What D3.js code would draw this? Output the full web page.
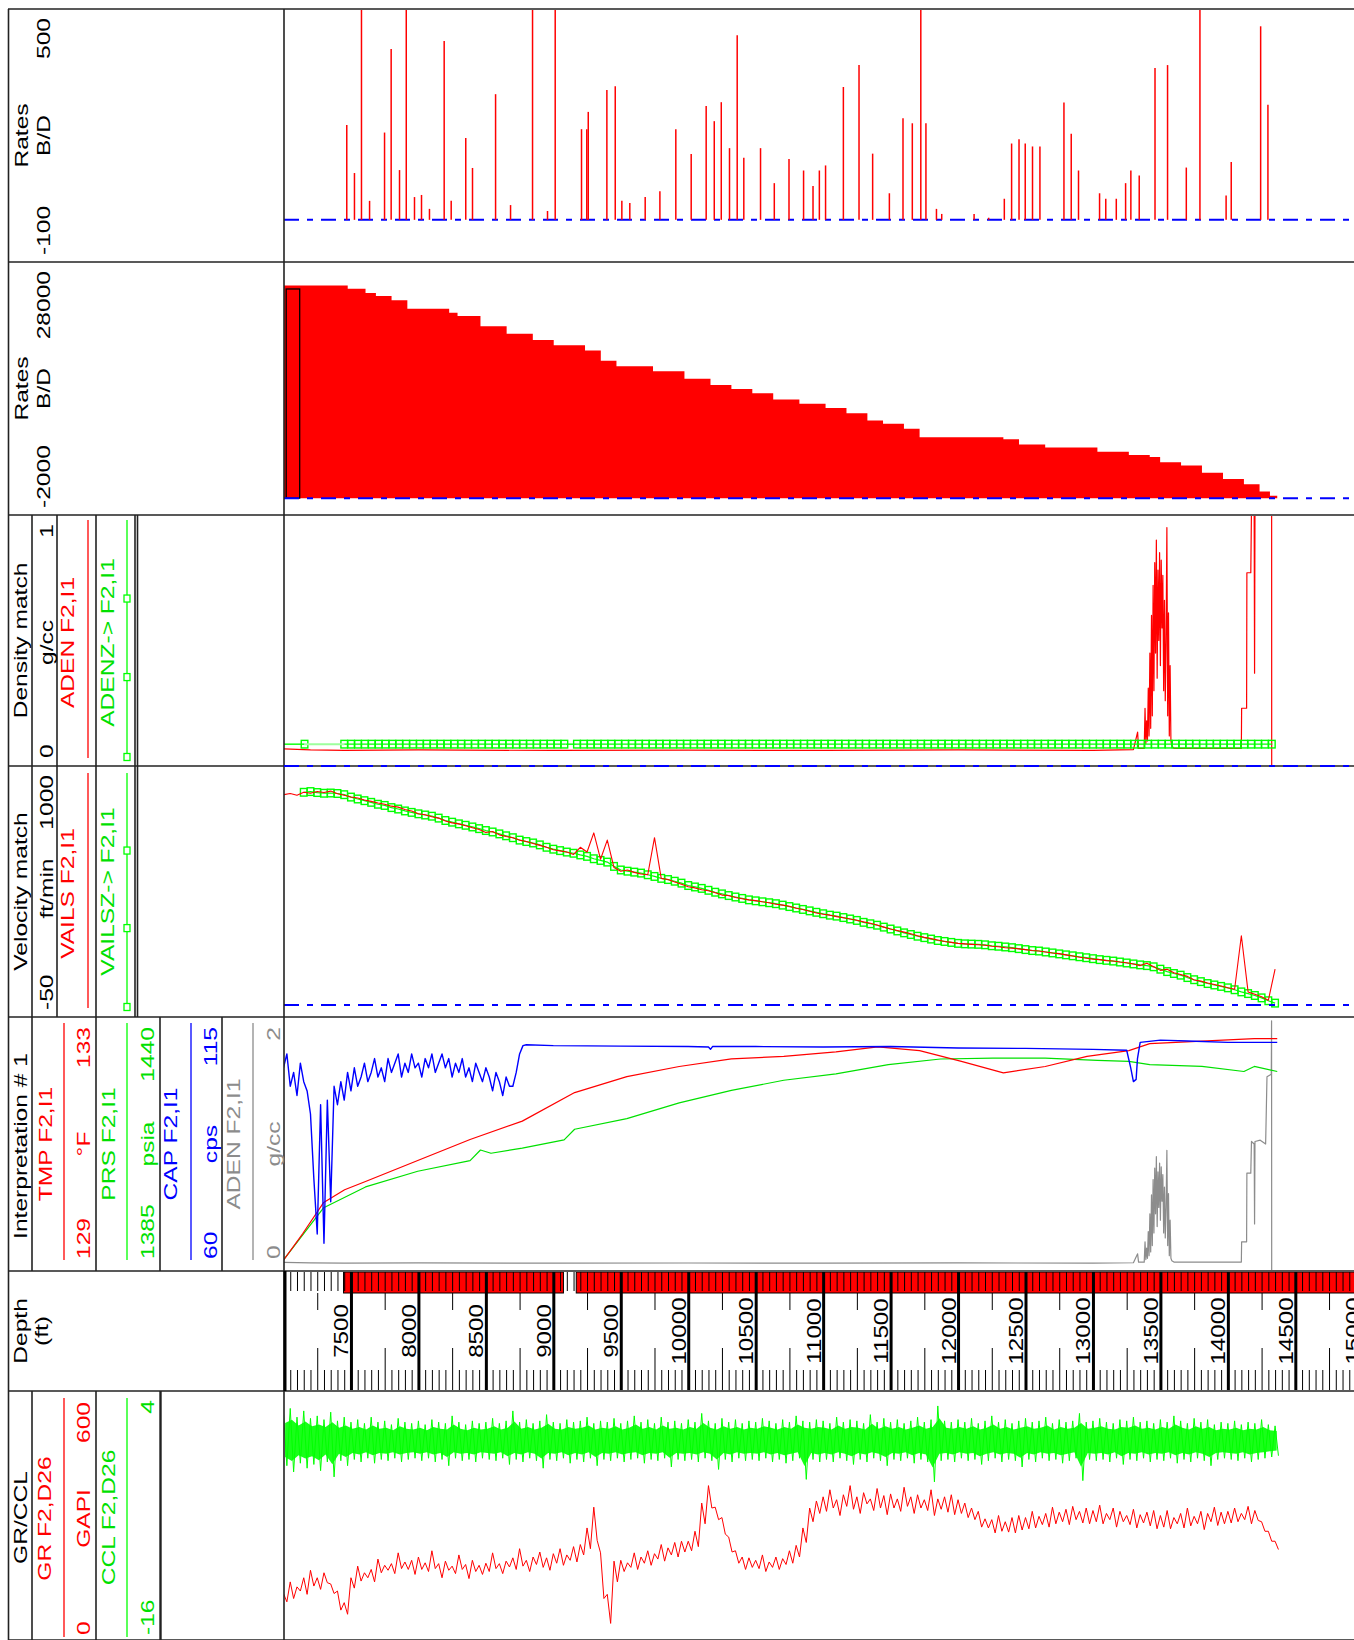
<!DOCTYPE html>
<html>
<head>
<meta charset="utf-8">
<script src="https://cdn.jsdelivr.net/npm/d3@7"></script>
<style>
  body { margin: 0; background: #fff; }
  svg { display: block; }
  text { font-family: "Liberation Sans", Arial, sans-serif; }
</style>
</head>
<body>
<div id="chart"></div>
<script>
// ---------------- data (depth in ft) ----------------

// track 1: injection rate spikes, B/D
const spikeDepth = [7469, 7526, 7578, 7638, 7749, 7798, 7860, 7910, 7971, 8023, 8082, 8191, 8243, 8351, 8401, 8572, 8683, 8846, 8957, 9014,
  9209, 9248, 9259, 9397, 9459, 9508, 9567, 9681, 9790, 9908, 10022, 10133, 10193, 10245, 10306, 10363, 10412, 10536, 10638, 10747,
  10855, 10925, 10972, 11018, 11150, 11266, 11367, 11491, 11592, 11661, 11724, 11762, 11840, 11879, 12119, 12227, 12343, 12397, 12452, 12498,
  12552, 12607, 12785, 12839, 12893, 13049, 13095, 13173, 13242, 13281, 13343, 13460, 13553, 13692, 13793, 13987, 14025, 14243, 14297];
const spikeRate = [225, 111, 600, 45, 207, 405, 118, 600, 54, 59, 26, 424, 45, 194, 123, 298, 35, 600, 21, 600,
  215, 215, 256, 308, 317, 45, 40, 54, 68, 215, 156, 270, 234, 279, 170, 438, 147, 170, 87, 144,
  117, 80, 117, 129, 315, 367, 157, 63, 241, 229, 600, 229, 26, 14, 14, 5, 50, 181, 191, 181,
  174, 174, 278, 204, 117, 63, 50, 50, 87, 117, 105, 360, 367, 124, 600, 58, 137, 459, 273];

// track 2: cumulative flow profile, B/D
const flowDepth = [7000, 7476, 7608, 7685, 7801, 7918, 8228, 8290, 8460, 8654, 8848, 9003, 9235, 9352, 9468, 9739, 9972, 10165, 10320, 10475,
  10630, 10824, 11018, 11173, 11328, 11444, 11599, 11715, 11793, 12336, 12452, 12646, 13033, 13266, 13421, 13498, 13653, 13808, 13964, 14119,
  14235, 14312, 14366];
const flowRate = [25210, 24830, 24330, 23960, 23470, 22470, 21980, 21610, 20370, 19500, 18760, 18140, 17510, 16280, 15650, 15040, 14170, 13420, 12930, 12430,
  11690, 11190, 10700, 10080, 9210, 8830, 8220, 7220, 7220, 6970, 6360, 5990, 5490, 5120, 4870, 4250, 3880, 3010, 2260, 1650,
  780, 280, 0];
const boxDepth = [7020, 7120];
const boxRate = [0, 24800];

// ADEN, g/cc (tracks 3 and 5)
const adenDepth = [7000, 7200, 7450, 8000, 9000, 10000, 11000, 12000, 13000, 13300, 13331, 13338,
  13380, 13386, 13392, 13398, 13404, 13410, 13416, 13422, 13428, 13434, 13440, 13446, 13452, 13458, 13464, 13470, 13476, 13482,
  13488, 13494, 13500, 13506, 13512, 13518, 13524, 13530, 13536, 13542, 13548, 13554, 13560, 13566, 13572, 13578, 13585, 13600,
  14100, 14102, 14139, 14141, 14170, 14175, 14195, 14198, 14201, 14240, 14280, 14290, 14322, 14324, 14325];
const adenVal = [0.068, 0.064, 0.062, 0.064, 0.062, 0.063, 0.062, 0.064, 0.062, 0.065, 0.135, 0.07,
  0.07, 0.23, 0.09, 0.18, 0.1, 0.31, 0.12, 0.45, 0.15, 0.6, 0.2, 0.72, 0.3, 0.81, 0.45, 0.9, 0.35, 0.78,
  0.5, 0.85, 0.4, 0.82, 0.55, 0.76, 0.3, 0.66, 0.26, 0.5, 0.95, 0.2, 0.61, 0.12, 0.4, 0.1, 0.08, 0.07,
  0.07, 0.23, 0.23, 0.77, 0.77, 1.02, 1.0, 0.37, 1.02, 1.03, 1.0, 1.53, 1.55, 1.97, 0.0];

// ADENZ (zoned density), constant runs with markers
const adenzRuns = [[7000, 7156, 0.087], [7450, 9090, 0.087], [9175, 14330, 0.087]];

// VAILS, ft/min, every 50 ft from 7000
const vailsStart = 7000;
const vailsVal = [880, 885, 878, 890, 886, 893, 889, 895, 884, 878,
  870, 866, 858, 852, 845, 840, 832, 828, 818, 812,
  800, 796, 788, 782, 770, 762, 758, 750, 742, 734,
  722, 726, 712, 705, 700, 690, 684, 676, 668, 660,
  650, 645, 640, 630, 660, 640, 720, 610, 690, 575,
  560, 565, 555, 548, 545, 700, 530, 525, 515, 505,
  495, 490, 482, 478, 470, 460, 458, 450, 445, 440,
  437, 432, 428, 422, 418, 413, 405, 400, 392, 385,
  380, 376, 370, 365, 360, 355, 348, 342, 335, 326,
  318, 312, 305, 298, 290, 283, 278, 272, 266, 262,
  258, 256, 254, 252, 250, 246, 244, 240, 238, 235,
  232, 228, 226, 222, 218, 215, 210, 205, 200, 196,
  192, 190, 186, 184, 180, 177, 172, 165, 175, 160,
  145, 150, 135, 128, 120, 105, 100, 92, 86, 80,
  72, 66, 290, 55, 45, 35, 20, 150];

// VAILSZ, ft/min, every 50 ft from 7150
const vailszStart = 7150;
const vailszVal = [890, 893, 889, 886, 887,
  885, 880, 870, 862, 855, 848, 840, 835, 826, 820, 812, 806,
  800, 795, 790, 782, 772, 765, 758, 752, 745, 738,
  730, 724, 716, 708, 700, 690, 684, 678, 670, 660,
  652, 646, 640, 635, 628, 622, 612, 605, 598, 580,
  565, 560, 556, 552, 545, 538, 530, 525, 518, 510,
  500, 494, 488, 480, 472, 465, 458, 452, 446, 440,
  436, 432, 428, 424, 418, 412, 406, 400, 394, 388,
  382, 376, 372, 366, 360, 354, 346, 340, 334, 326,
  318, 310, 302, 295, 288, 282, 276, 270, 266, 262,
  258, 256, 255, 254, 252, 248, 246, 243, 240, 236,
  232, 228, 226, 222, 218, 214, 210, 206, 202, 198,
  194, 190, 187, 184, 180, 176, 172, 168, 165, 160,
  150, 140, 132, 125, 115, 106, 98, 90, 84, 78,
  72, 64, 55, 48, 40, 30, 18, 8];

// TMP, degF
const tmpDepth = [7000, 7143, 7298, 7453, 7608, 7995, 8383, 8770, 9158, 9545, 9933, 10320, 10708, 11095, 11405, 11715, 12025, 12336, 12646, 12956,
  13266, 13421, 13808, 14196, 14366];
const tmpVal = [129.17, 129.59, 130.08, 130.28, 130.41, 130.74, 131.07, 131.36, 131.81, 132.06, 132.22, 132.34, 132.38, 132.45, 132.53, 132.47, 132.30, 132.12, 132.22, 132.38,
  132.47, 132.58, 132.62, 132.66, 132.66];

// PRS, psia
const prsDepth = [7000, 7298, 7608, 7995, 8383, 8460, 8538, 8770, 9080, 9158, 9545, 9933, 10320, 10708, 11095, 11483, 11870, 12258, 12646, 13033,
  13266, 13421, 13808, 14119, 14196, 14366];
const prsVal = [1387.4, 1398.7, 1403.2, 1406.6, 1408.9, 1411.2, 1410.5, 1411.6, 1413.4, 1415.7, 1418.0, 1421.4, 1424.1, 1426.3, 1427.7, 1429.7, 1430.9, 1431.1, 1431.1, 1430.6,
  1430.4, 1429.7, 1429.3, 1428.2, 1429.3, 1428.2];

// CAP, cps: noisy upper section every 25 ft from 7000, then sparse tail
const capStart = 7000;
const capNoisy = [104, 107, 100, 103, 98, 105, 101, 99, 94, 80,
  68, 96, 66, 97, 75, 100, 96, 101, 97, 103,
  99, 104, 100, 102, 105, 101, 103, 106, 102, 104,
  101, 106, 103, 105, 107, 102, 105, 103, 107, 104,
  105, 102, 106, 104, 107, 103, 105, 107, 104, 106,
  102, 105, 103, 106, 102, 104, 101, 105, 103, 101,
  104, 102, 99, 103, 101, 98, 102, 100, 100, 103,
  107, 108.8];
const capTailDepth = [8800, 9000, 9500, 10000, 10150, 10165, 10180, 10500, 11000, 11500, 12000, 12500, 13000, 13250, 13280, 13300, 13320, 13330, 13350, 13500,
  13700, 14000, 14366];
const capTailVal = [109, 108.8, 108.7, 108.6, 108.5, 108.0, 108.6, 108.6, 108.5, 108.6, 108.3, 108.2, 108.0, 107.8, 104, 101, 101.5, 106, 109.5, 110,
  109.8, 109.5, 109.5];

// GR, GAPI: high / low excursion per 50 ft bin from 7000
const grStart = 7000;
const grHi = [112, 140, 128, 150, 168, 150, 162, 135, 118, 90,
  150, 178, 162, 170, 195, 180, 184, 210, 188, 192,
  200, 186, 215, 184, 190, 178, 205, 182, 192, 180,
  185, 210, 184, 190, 198, 220, 192, 200, 212, 198,
  208, 220, 205, 225, 230, 270, 320, 210, 110, 190,
  192, 186, 210, 200, 215, 208, 230, 222, 235, 238,
  238, 262, 330, 372, 320, 295, 248, 215, 200, 198,
  192, 205, 188, 200, 196, 215, 228, 270, 318, 335,
  345, 362, 338, 350, 372, 345, 355, 340, 365, 348,
  352, 340, 368, 345, 350, 338, 362, 340, 345, 350,
  338, 330, 318, 310, 292, 290, 300, 285, 295, 300,
  295, 310, 298, 305, 320, 308, 315, 322, 310, 318,
  312, 325, 305, 318, 310, 300, 315, 302, 308, 312,
  300, 312, 295, 305, 318, 298, 310, 305, 320, 308,
  310, 318, 305, 322, 312, 285, 262, 238];
const grLo = [92, 100, 118, 110, 130, 122, 138, 112, 72, 62,
  125, 142, 150, 140, 162, 168, 160, 172, 170, 158,
  170, 165, 172, 150, 168, 160, 170, 148, 165, 158,
  165, 172, 160, 176, 170, 178, 165, 182, 175, 168,
  185, 180, 192, 188, 205, 220, 240, 100, 40, 140,
  165, 175, 170, 185, 180, 195, 190, 205, 200, 212,
  215, 225, 280, 318, 290, 255, 212, 185, 170, 175,
  172, 165, 175, 170, 182, 185, 200, 235, 285, 305,
  310, 318, 300, 322, 315, 305, 328, 312, 318, 302,
  318, 310, 322, 305, 318, 312, 300, 315, 308, 302,
  305, 295, 290, 272, 270, 258, 262, 260, 258, 265,
  268, 270, 278, 272, 280, 285, 278, 290, 282, 280,
  285, 280, 290, 272, 285, 278, 270, 282, 275, 268,
  272, 268, 280, 270, 275, 280, 266, 285, 276, 280,
  282, 285, 290, 280, 288, 262, 238, 218];

// CCL: high / low excursion per 50 ft bin from 7000
const cclStart = 7000;
const cclHi = [2.2, 2.6, 1.9, 2.4, 1.8, 2.0, 1.7, 2.3, 1.6, 1.9,
  1.5, 1.7, 1.4, 1.9, 1.5, 1.6, 1.3, 1.8, 1.5, 1.4,
  1.6, 1.3, 1.7, 1.5, 1.4, 2.0, 1.5, 1.3, 1.6, 1.4,
  1.5, 1.8, 1.4, 1.6, 2.4, 1.5, 1.7, 1.4, 1.6, 2.1,
  1.5, 1.4, 1.7, 1.5, 1.6, 1.9, 1.4, 1.6, 1.5, 1.8,
  1.4, 1.6, 2.0, 1.5, 1.7, 1.4, 1.9, 1.5, 1.6, 1.4,
  1.7, 1.5, 2.2, 1.6, 1.4, 1.8, 1.5, 1.7, 1.4, 1.6,
  1.5, 1.8, 1.6, 1.4, 1.7, 1.5, 2.0, 1.6, 1.5, 1.7,
  1.6, 1.4, 1.9, 1.5, 1.7, 1.6, 1.4, 2.1, 1.5, 1.8,
  1.5, 1.7, 1.4, 1.6, 1.9, 1.5, 1.7, 2.8, 1.6, 1.5,
  1.7, 1.5, 1.8, 1.4, 1.6, 2.0, 1.5, 1.7, 1.4, 1.6,
  1.8, 1.5, 1.6, 1.9, 1.4, 1.7, 1.5, 1.6, 2.2, 1.5,
  1.6, 1.8, 1.5, 1.4, 1.7, 1.6, 1.9, 1.5, 1.6, 1.4,
  1.7, 1.5, 2.0, 1.6, 1.4, 1.8, 1.5, 1.7, 1.3, 1.5,
  1.4, 1.6, 1.3, 1.5, 1.4, 1.7, 1.3, 1.2];
const cclLo = [-2.0, -2.5, -1.8, -2.2, -1.9, -2.4, -1.7, -2.9, -1.6, -2.0,
  -1.5, -1.7, -1.4, -1.8, -1.5, -1.6, -1.4, -1.7, -1.5, -1.4,
  -1.6, -1.4, -1.7, -1.5, -2.0, -1.4, -1.6, -1.5, -1.7, -1.4,
  -1.5, -1.6, -1.4, -1.9, -1.5, -1.7, -1.4, -1.6, -2.2, -1.5,
  -1.6, -1.4, -1.8, -1.5, -1.7, -1.4, -2.0, -1.5, -1.6, -1.4,
  -1.7, -1.5, -1.4, -1.8, -1.5, -1.6, -1.4, -2.1, -1.5, -1.6,
  -1.5, -1.7, -1.4, -1.6, -2.3, -1.5, -1.7, -1.4, -1.6, -1.5,
  -1.6, -1.4, -1.7, -1.5, -1.8, -1.6, -1.4, -3.1, -1.5, -1.7,
  -1.5, -1.7, -1.4, -1.6, -1.9, -1.5, -1.7, -1.4, -1.6, -2.0,
  -1.5, -1.6, -1.4, -1.8, -1.5, -1.7, -3.3, -1.6, -1.5, -1.7,
  -1.4, -1.6, -1.5, -1.9, -1.6, -1.4, -1.7, -1.5, -1.6, -2.1,
  -1.5, -1.7, -1.4, -1.6, -1.5, -1.8, -1.6, -1.4, -3.2, -1.5,
  -1.6, -1.5, -1.7, -1.4, -1.9, -1.5, -1.6, -1.4, -1.7, -1.5,
  -1.6, -1.4, -1.8, -1.5, -1.7, -1.4, -1.6, -2.0, -1.5, -1.4,
  -1.5, -1.6, -1.4, -1.7, -1.5, -1.4, -1.3, -1.2];

// depth track: station intervals
const stationRuns = [[7445, 9075], [9170, 15000]];
const depthLabels = [7500, 8000, 8500, 9000, 9500, 10000, 10500, 11000, 11500, 12000, 12500, 13000, 13500, 14000, 14500, 15000];

// ---------------- layout ----------------
const W = 1354, H = 1640;
const headL = 8, plotL = 284;
const trackY = [9, 262, 515, 766, 1017, 1271, 1391, 1640];

const red = "#ff0000", green = "#00ff00", greenText = "#00e000", blue = "#0000ff", gray = "#8c8c8c";

const svg = d3.select("#chart").append("svg")
  .attr("width", W).attr("height", H);

const x = d3.scaleLinear().domain([7000, 14935]).range([283.5, W]);

const defs = svg.append("defs");
trackY.slice(0, -1).forEach((t, i) => {
  defs.append("clipPath").attr("id", "clip" + i).append("rect")
    .attr("x", plotL).attr("y", t + 1)
    .attr("width", W - plotL).attr("height", trackY[i + 1] - t - 2);
});
const track = i => svg.append("g").attr("clip-path", `url(#clip${i})`);

const byIndex = (start, step) => (v, i) => [start + i * step, v];

// min/max bins drawn as a dense zig-zag, the way a decimated log trace looks
function zigzag(start, step, hi, lo) {
  const pts = [];
  hi.forEach((h, i) => {
    const d = start + i * step;
    pts.push([d, h], [d + step / 2, lo[i]]);
  });
  return pts;
}

function curve(g, pts, y, color, width, crv) {
  g.append("path").datum(pts)
    .attr("fill", "none").attr("stroke", color).attr("stroke-width", width)
    .attr("stroke-linejoin", "round")
    .attr("d", d3.line().x(d => x(d[0])).y(d => y(d[1])).curve(crv || d3.curveLinear));
}

function markers(g, pts, y) {
  g.selectAll(null).data(pts).join("rect")
    .attr("x", d => x(d[0]) - 3.3).attr("y", d => y(d[1]) - 3.8)
    .attr("width", 6.6).attr("height", 7.6)
    .attr("fill", "none").attr("stroke", green).attr("stroke-width", 1.4);
}

function dashDot(g, yPos) {
  g.append("line")
    .attr("x1", plotL).attr("x2", W).attr("y1", yPos).attr("y2", yPos)
    .attr("stroke", blue).attr("stroke-width", 2)
    .attr("stroke-dasharray", "15 8 6 8");
}

// ---- track 1: rates ----
const y1 = d3.scaleLinear().domain([-100, 500]).range([trackY[1], trackY[0]]);
const t1 = track(0);
dashDot(t1, y1(0));
t1.selectAll(null).data(d3.zip(spikeDepth, spikeRate)).join("line")
  .attr("x1", d => x(d[0])).attr("x2", d => x(d[0]))
  .attr("y1", y1(0)).attr("y2", d => y1(d[1]))
  .attr("stroke", red).attr("stroke-width", 1.5);

// ---- track 2: flow profile ----
const y2 = d3.scaleLinear().domain([-2000, 28000]).range([trackY[2], trackY[1]]);
const t2 = track(1);
t2.append("path").datum(d3.zip(flowDepth, flowRate))
  .attr("fill", red)
  .attr("d", d3.area().x(d => x(d[0])).y0(y2(0)).y1(d => y2(d[1])).curve(d3.curveStepAfter));
t2.append("rect")
  .attr("x", x(boxDepth[0])).attr("width", x(boxDepth[1]) - x(boxDepth[0]))
  .attr("y", y2(boxRate[1])).attr("height", y2(boxRate[0]) - y2(boxRate[1]))
  .attr("fill", "none").attr("stroke", "#000").attr("stroke-width", 1.3);
dashDot(t2, y2(0));

// ---- track 3: density match ----
const y3 = d3.scaleLinear().domain([0, 1]).range([trackY[3], trackY[2]]);
const t3 = track(2);
const adenPts = d3.zip(adenDepth, adenVal);
curve(t3, adenPts, y3, red, 1.2);
adenzRuns.forEach(r => {
  curve(t3, [[r[0], r[2]], [r[1], r[2]]], y3, green, 1.4);
  markers(t3, d3.range(r[0] === 7000 ? 7156 : r[0], r[1] + 1, 51).map(d => [d, r[2]]), y3);
});
curve(t3, [[7156, 0.087], [7450, 0.087]], y3, "#9dff9d", 2);
curve(t3, [[9090, 0.087], [9175, 0.087]], y3, green, 1.4);

// ---- track 4: velocity match ----
const y4 = d3.scaleLinear().domain([-50, 1000]).range([trackY[4], trackY[3]]);
const t4 = track(3);
const vzPts = vailszVal.map(byIndex(vailszStart, 50));
curve(t4, vzPts, y4, green, 1.2);
markers(t4, vzPts, y4);
curve(t4, vailsVal.map(byIndex(vailsStart, 50)), y4, red, 1.1);
dashDot(t4, y4(0));

// ---- track 5: interpretation ----
const yTmp = d3.scaleLinear().domain([129, 133]).range([trackY[5], trackY[4]]);
const yPrs = d3.scaleLinear().domain([1385, 1440]).range([trackY[5], trackY[4]]);
const yCap = d3.scaleLinear().domain([60, 115]).range([trackY[5], trackY[4]]);
const yAd2 = d3.scaleLinear().domain([0, 2]).range([trackY[5], trackY[4]]);
const t5 = track(4);
curve(t5, adenPts, yAd2, gray, 1.2);
curve(t5, d3.zip(prsDepth, prsVal), yPrs, "#00e000", 1.2);
curve(t5, d3.zip(tmpDepth, tmpVal), yTmp, red, 1.2);
curve(t5, capNoisy.map(byIndex(capStart, 25)).concat(d3.zip(capTailDepth, capTailVal)), yCap, blue, 1.4);

// ---- depth track ----
const dTop = trackY[5], dBot = trackY[6];
const gD = svg.append("g").attr("clip-path", "url(#clip5)");
gD.selectAll(null).data(stationRuns).join("rect")
  .attr("x", d => x(d[0])).attr("width", d => x(d[1]) - x(d[0]))
  .attr("y", dTop + 1).attr("height", 21)
  .attr("fill", red).attr("stroke", "#000").attr("stroke-width", 1);
const all50 = d3.range(7000, 15001, 50);
const minor = all50.filter(d => d % 250 !== 0);
const mids = all50.filter(d => d % 500 === 250);
const majors = all50.filter(d => d % 500 === 0);
const clean = g => { g.select(".domain").remove(); g.selectAll("text").remove(); };
gD.append("g").attr("transform", `translate(0,${dTop + 1})`)
  .call(d3.axisBottom(x).tickValues(minor.concat(mids)).tickSize(19)).call(clean);
gD.append("g").attr("transform", `translate(0,${dBot - 1})`)
  .call(d3.axisTop(x).tickValues(minor).tickSize(20)).call(clean);
gD.append("g").attr("transform", `translate(0,${dTop + 22})`)
  .call(d3.axisBottom(x).tickValues(mids).tickSize(17)).call(clean);
gD.append("g").attr("transform", `translate(0,${dBot - 1})`)
  .call(d3.axisTop(x).tickValues(mids).tickSize(42)).call(clean);
gD.append("g").attr("transform", `translate(0,${dTop})`)
  .call(d3.axisBottom(x).tickValues(majors).tickSize(dBot - dTop)).call(clean)
  .selectAll("line").attr("stroke-width", 3);
gD.selectAll(null).data(depthLabels).join("text")
  .attr("transform", d => `translate(${x(d) - 2.5},${(dTop + dBot) / 2}) rotate(-90) scale(1.15,1)`)
  .attr("text-anchor", "middle").attr("font-size", 21).attr("fill", "#000")
  .text(d => d);

// ---- GR / CCL track ----
const yGr = d3.scaleLinear().domain([0, 600]).range([trackY[7], trackY[6]]);
const yCcl = d3.scaleLinear().domain([-16, 4]).range([trackY[7], trackY[6]]);
const t7 = track(6);
const cclBins = cclHi.map((h, i) => [cclStart + i * 50 + 12, h, cclLo[i]]);
t7.append("path").datum(cclBins)
  .attr("fill", green).attr("opacity", 0.9)
  .attr("d", d3.area().x(d => x(d[0])).y0(d => yCcl(d[2] * 0.65)).y1(d => yCcl(d[1] * 0.65)));
curve(t7, zigzag(cclStart, 50, cclHi, cclLo), yCcl, green, 1);
curve(t7, zigzag(grStart, 50, grHi, grLo), yGr, red, 1);

// ---------------- frame ----------------
const frame = svg.append("g").attr("stroke", "#222").attr("stroke-width", 1.6);
trackY.forEach(t => {
  frame.append("line").attr("x1", headL).attr("x2", W).attr("y1", t).attr("y2", t);
});
frame.append("line").attr("x1", headL + 0.5).attr("x2", headL + 0.5).attr("y1", trackY[0]).attr("y2", H);
frame.append("line").attr("x1", plotL).attr("x2", plotL).attr("y1", trackY[0]).attr("y2", H);
frame.append("line").attr("x1", plotL + 1).attr("x2", plotL + 1).attr("y1", dTop).attr("y2", dBot).attr("stroke-width", 3).attr("stroke", "#000");

// header column rules
const rules = [
  [32, trackY[2], trackY[5]], [96, trackY[2], trackY[5]], [57, trackY[2], trackY[4]],
  [135, trackY[2], trackY[4]], [137.5, trackY[2], trackY[4]],
  [160, trackY[4], trackY[5]], [222, trackY[4], trackY[5]],
  [32, trackY[6], H], [96, trackY[6], H]
];
rules.forEach(r => frame.append("line").attr("x1", r[0]).attr("x2", r[0]).attr("y1", r[1]).attr("y2", r[2]));
frame.append("line").attr("x1", 160.5).attr("x2", 160.5).attr("y1", trackY[6]).attr("y2", H).attr("stroke-width", 2.4);

// blue reference line on track 3 (sits on the border)
dashDot(svg, y3(0));

// ---------------- header text ----------------
function vtext(bx, y, str, color, anchor) {
  svg.append("text")
    .attr("transform", `translate(${bx},${y}) rotate(-90) scale(1.33,1)`)
    .attr("text-anchor", anchor || "middle")
    .attr("font-size", 18.5).attr("fill", color)
    .text(str);
}
function legendLine(lx, top, bottom, color, withMarks) {
  svg.append("line").attr("x1", lx).attr("x2", lx).attr("y1", top).attr("y2", bottom)
    .attr("stroke", color).attr("stroke-width", 1.3);
  if (withMarks) {
    [top + (bottom - top) * 0.33, top + (bottom - top) * 0.66, bottom - 1].forEach(yy => {
      svg.append("rect").attr("x", lx - 3).attr("y", yy - 3.5).attr("width", 6).attr("height", 7)
        .attr("fill", "#fff").attr("stroke", color).attr("stroke-width", 1.3);
    });
  }
}
const mid = i => (trackY[i] + trackY[i + 1]) / 2;

// track 1 & 2
[[0, "500", "-100"], [1, "28000", "-2000"]].forEach(([i, hi, lo]) => {
  vtext(28, mid(i), "Rates", "#000");
  vtext(50, mid(i), "B/D", "#000");
  vtext(50, trackY[i] + 9, hi, "#000", "end");
  vtext(50, trackY[i + 1] - 7, lo, "#000", "start");
});

// track 3
vtext(27, mid(2), "Density match", "#000");
vtext(52.5, mid(2) + 2, "g/cc", "#000");
vtext(52.5, trackY[2] + 9, "1", "#000", "end");
vtext(52.5, trackY[3] - 8, "0", "#000", "start");
vtext(74, mid(2) + 2, "ADEN  F2,I1", red);
legendLine(88, trackY[2] + 5, trackY[3] - 8, red);
vtext(114, mid(2) + 2, "ADENZ->  F2,I1", greenText);
legendLine(127, trackY[2] + 5, trackY[3] - 8, green, true);

// track 4
vtext(27, mid(3), "Velocity match", "#000");
vtext(52.5, mid(3) - 3, "ft/min", "#000");
vtext(52.5, trackY[3] + 9, "1000", "#000", "end");
vtext(52.5, trackY[4] - 7, "-50", "#000", "start");
vtext(74, mid(3) + 2, "VAILS  F2,I1", red);
legendLine(88, trackY[3] + 7, trackY[4] - 9, red);
vtext(114, mid(3), "VAILSZ->  F2,I1", greenText);
legendLine(127, trackY[3] + 7, trackY[4] - 9, green, true);

// track 5
vtext(27, mid(4) + 2, "Interpretation # 1", "#000");
[
  [51.5, 64, 89.5, "TMP  F2,I1", "°F", "133", "129", red, red],
  [114.5, 127, 153.5, "PRS  F2,I1", "psia", "1440", "1385", greenText, green],
  [176.5, 191, 216.5, "CAP  F2,I1", "cps", "115", "60", blue, blue],
  [240, 253, 280, "ADEN  F2,I1", "g/cc", "2", "0", gray, gray]
].forEach(([tx, lx, sx, name, unit, hi, lo, c, lc]) => {
  vtext(tx, mid(4), name, c);
  legendLine(lx, trackY[4] + 6, trackY[5] - 11, lc);
  vtext(sx, mid(4), unit, c);
  vtext(sx, trackY[4] + 10, hi, c, "end");
  vtext(sx, trackY[5] - 12, lo, c, "start");
});

// depth header
vtext(27, mid(5), "Depth", "#000");
vtext(47.5, mid(5), "(ft)", "#000");

// GR / CCL header
vtext(27, mid(6) + 2, "GR/CCL", "#000");
vtext(50.5, mid(6) + 3, "GR  F2,D26", red);
legendLine(64, trackY[6] + 7, H - 3, red);
vtext(89.5, mid(6) + 3, "GAPI", red);
vtext(89.5, trackY[6] + 11, "600", red, "end");
vtext(89.5, H - 5, "0", red, "start");
vtext(114.5, mid(6) + 2, "CCL  F2,D26", greenText);
legendLine(127, trackY[6] + 7, H - 3, green);
vtext(153.5, trackY[6] + 9, "4", greenText, "end");
vtext(153.5, H - 5, "-16", greenText, "start");
</script>
</body>
</html>
